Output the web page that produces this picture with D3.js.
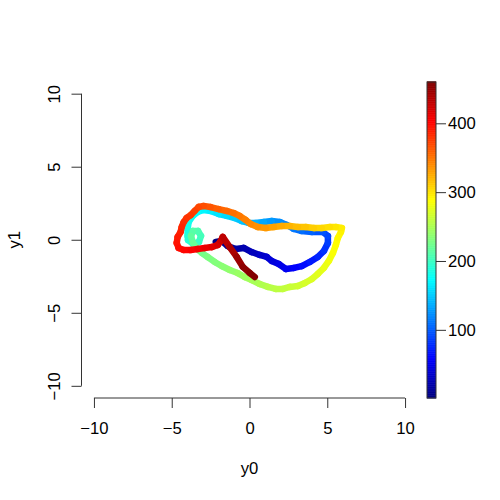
<!DOCTYPE html>
<html>
<head>
<meta charset="utf-8">
<script src="https://cdn.jsdelivr.net/npm/d3@7"></script>
<style>
  body { margin: 0; background: #fff; }
  svg text { font-family: "Liberation Sans", Arial, Helvetica, sans-serif; font-size: 16.67px; fill: #000; }
</style>
</head>
<body>
<div id="chart"></div>
<script>
// time index of each sample along the trajectory
var tIdx = [1,4,9,15,20,26,31,36,40,45,50,55,60,66,72,78,84,89,94,
  100,106,111,116,121,126,131,136,140,144,149,154,159,164,168,172,176,180,184,188,
  190,194,198,202,206,210,214,218,222,225,
  228,231,234,238,241,244,247,250,254,257,259,262,265,268,271,274,277,280,284,287,289,292,294,
  297,300,304,308,312,316,320,324,328,332,336,340,343,347,350,354,358,362,366,369,372,375,378,381,384,387,390,393,396,399,402,405,410,414,418,423,428,
  436,444,451,456,460];
var y0 = [-2.17,-1.79,-1.40,-0.89,-0.37,0.14,0.66,1.11,1.43,1.88,2.33,2.85,3.36,3.88,4.39,4.78,5.04,5.04,4.72,
  4.01,3.36,2.85,2.40,1.95,1.43,0.92,0.40,-0.05,-0.50,-0.95,-1.46,-1.98,-2.50,-2.95,-3.33,-3.65,-3.91,-3.98,-3.98,
  -3.95,-3.63,-3.25,-3.12,-3.31,-3.63,-3.76,-3.63,-3.37,-3.05,
  -2.69,-2.24,-1.79,-1.27,-0.76,-0.31,0.14,0.66,1.18,1.69,2.14,2.59,3.11,3.56,4.01,4.39,4.78,5.10,5.36,5.55,5.68,5.88,5.94,
  5.55,5.17,4.65,4.14,3.62,3.11,2.59,2.08,1.56,1.05,0.53,0.08,-0.24,-0.63,-1.01,-1.46,-1.98,-2.50,-2.95,-3.27,-3.53,-3.78,-4.04,-4.23,-4.36,-4.43,-4.62,-4.68,-4.56,-4.23,-3.78,-3.33,-2.88,-2.43,-2.04,-1.85,-1.72,
  -1.27,-0.82,-0.43,0.02,0.34];
var y1 = [-0.15,-0.09,-0.43,-0.63,-0.56,-0.84,-1.04,-1.18,-1.45,-1.66,-2.00,-1.93,-1.80,-1.52,-1.18,-0.77,-0.22,0.26,0.53,
  0.53,0.60,0.74,1.01,1.21,1.28,1.21,1.15,1.15,1.28,1.49,1.63,1.76,1.97,2.04,1.90,1.63,1.21,0.74,0.26,
  -0.02,-0.29,-0.15,0.26,0.60,0.60,0.26,-0.22,-0.63,-0.91,
  -1.18,-1.52,-1.80,-2.07,-2.28,-2.55,-2.76,-3.03,-3.23,-3.37,-3.37,-3.23,-3.17,-2.96,-2.69,-2.34,-1.93,-1.45,-0.91,-0.36,0.12,0.53,0.80,
  0.87,0.87,0.80,0.80,0.87,0.87,0.94,0.94,0.87,0.80,0.87,1.08,1.35,1.63,1.83,1.97,2.10,2.24,2.31,2.24,1.97,1.69,1.49,1.21,0.87,0.53,0.19,-0.22,-0.56,-0.70,-0.70,-0.63,-0.56,-0.50,-0.36,-0.09,0.19,
  -0.50,-1.18,-1.86,-2.28,-2.55];

var axisTicks = [-10,-5,0,5,10];
var barTicks = [100,200,300,400];
var tRange = [1,460];
var jetStops = ["#00007F","#0000FF","#007FFF","#00FFFF","#7FFF7F","#FFFF00","#FF7F00","#FF0000","#7F0000"];

var width = 500, height = 500;
var svg = d3.select('#chart').append('svg')
    .attr('width', width)
    .attr('height', height);

var xScale = d3.scaleLinear().domain([-10.8,10.8]).range([81.5,417.5]);
var yScale = d3.scaleLinear().domain([-10.8,10.8]).range([397.5,82]);

// jet palette spread evenly over the time range
var stopDomain = jetStops.map(function(c,i){
    return tRange[0] + (tRange[1]-tRange[0])*i/(jetStops.length-1);
});
var colour = d3.scaleLinear().domain(stopDomain).range(jetStops).interpolate(d3.interpolateRgb);

// trajectory, one segment at a time so the colour follows time
var segs = d3.range(tIdx.length-1);
svg.append('g').selectAll('line').data(segs).enter().append('line')
    .attr('x1', function(i){ return xScale(y0[i]); })
    .attr('y1', function(i){ return yScale(y1[i]); })
    .attr('x2', function(i){ return xScale(y0[i+1]); })
    .attr('y2', function(i){ return yScale(y1[i+1]); })
    .style('stroke', function(i){ return colour((tIdx[i]+tIdx[i+1])/2); })
    .style('stroke-width', 6.5)
    .style('stroke-linecap', 'round');

// x axis
var xAxis = svg.append('g')
    .attr('transform', 'translate(0,398)')
    .call(d3.axisBottom(xScale).tickValues(axisTicks).tickSize(10).tickSizeOuter(0).tickPadding(14));
xAxis.select('.domain').remove();
xAxis.append('line')
    .attr('x1', xScale(-10)).attr('x2', xScale(10))
    .style('stroke', '#333');
xAxis.selectAll('.tick line').style('stroke', '#333');
xAxis.selectAll('text').style('font-size', '16.67px').attr('fill', '#000');

// y axis, labels turned like R does
var yAxis = svg.append('g')
    .attr('transform', 'translate(81.5,0)')
    .call(d3.axisLeft(yScale).tickValues(axisTicks).tickSize(10).tickSizeOuter(0));
yAxis.select('.domain').remove();
yAxis.append('line')
    .attr('y1', yScale(-10)).attr('y2', yScale(10))
    .style('stroke', '#333');
yAxis.selectAll('.tick line').style('stroke', '#333');
yAxis.selectAll('text')
    .attr('x', null).attr('dy', null)
    .attr('text-anchor', 'middle')
    .attr('transform', 'translate(-22,0) rotate(-90)')
    .style('font-size', '16.67px').attr('fill', '#000');

// axis titles
svg.append('text')
    .attr('x', xScale(0))
    .attr('y', 474)
    .attr('text-anchor', 'middle')
    .text('y0');
svg.append('text')
    .attr('transform', 'translate(20,' + yScale(0) + ') rotate(-90)')
    .attr('text-anchor', 'middle')
    .text('y1');

// colour bar
var barScale = d3.scaleLinear().domain(tRange).range([398,82]);
var barVals = d3.range(tRange[0], tRange[1]+1);
var bar = svg.append('g');
bar.selectAll('rect').data(barVals).enter().append('rect')
    .attr('x', 427)
    .attr('width', 9)
    .attr('y', function(d){ return barScale(d) - 0.69; })
    .attr('height', 1.2)
    .style('fill', function(d){ return colour(d); });
bar.append('rect')
    .attr('x', 427).attr('y', 82)
    .attr('width', 9).attr('height', 316)
    .style('fill', 'none')
    .style('stroke', '#333');
var barAxis = svg.append('g')
    .attr('transform', 'translate(436,0)')
    .call(d3.axisRight(barScale).tickValues(barTicks).tickSize(10).tickSizeOuter(0).tickPadding(2));
barAxis.select('.domain').remove();
barAxis.selectAll('.tick line').style('stroke', '#333');
barAxis.selectAll('text').style('font-size', '16.67px').attr('fill', '#000');
</script>
</body>
</html>
